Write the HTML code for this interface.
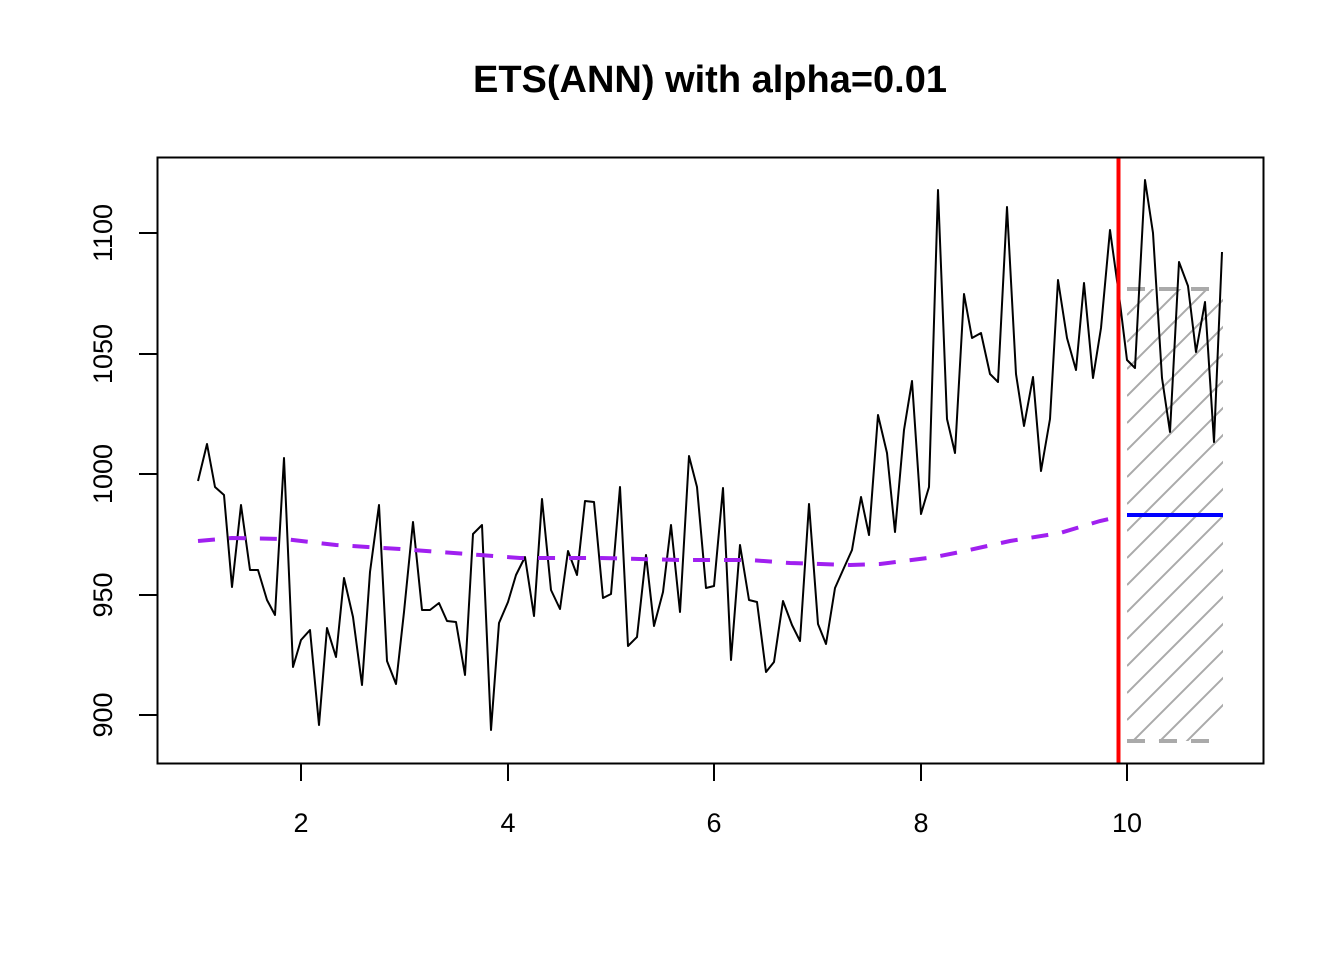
<!DOCTYPE html>
<html><head><meta charset="utf-8"><style>body{margin:0;background:#fff}svg{display:block}</style></head>
<body>
<svg width="1344" height="960" viewBox="0 0 1344 960" xmlns="http://www.w3.org/2000/svg" font-family="Liberation Sans, sans-serif">
<rect width="1344" height="960" fill="#fff"/>
<text x="710" y="92" text-anchor="middle" font-size="38" font-weight="bold">ETS(ANN) with alpha=0.01</text>
<defs><clipPath id="hc"><rect x="1127" y="289" width="96" height="452"/></clipPath></defs>
<g clip-path="url(#hc)" stroke="#aaa" stroke-width="2">
<g id="h">
<line x1="1127" y1="801" x2="1627" y2="301"/><line x1="1127" y1="774" x2="1627" y2="274"/><line x1="1127" y1="747" x2="1627" y2="247"/><line x1="1127" y1="720" x2="1627" y2="220"/><line x1="1127" y1="693" x2="1627" y2="193"/><line x1="1127" y1="666" x2="1627" y2="166"/><line x1="1127" y1="639" x2="1627" y2="139"/><line x1="1127" y1="612" x2="1627" y2="112"/><line x1="1127" y1="585" x2="1627" y2="85"/><line x1="1127" y1="558" x2="1627" y2="58"/><line x1="1127" y1="531" x2="1627" y2="31"/><line x1="1127" y1="504" x2="1627" y2="4"/><line x1="1127" y1="477" x2="1627" y2="-23"/><line x1="1127" y1="450" x2="1627" y2="-50"/><line x1="1127" y1="423" x2="1627" y2="-77"/><line x1="1127" y1="396" x2="1627" y2="-104"/><line x1="1127" y1="369" x2="1627" y2="-131"/><line x1="1127" y1="342" x2="1627" y2="-158"/><line x1="1127" y1="315" x2="1627" y2="-185"/><line x1="1127" y1="288" x2="1627" y2="-212"/>
</g></g>
<line x1="1127" y1="289" x2="1210" y2="289" stroke="#aaa" stroke-width="4" stroke-dasharray="18,14"/>
<line x1="1127" y1="741" x2="1210" y2="741" stroke="#aaa" stroke-width="4" stroke-dasharray="18,14"/>
<polyline fill="none" stroke="#000" stroke-width="2" stroke-linejoin="round" points="198,481 207,444 215,487 224,495 232,587 241,505 250,570 258,570 267,600 275,615 284,458 293,667 301,640 310,630 319,725 327,628 336,657 344,578 353,617 362,685 370,572 379,505 387,661 396,684 404,612 413,522 422,610 430,610 439,603 447,621 456,622 465,675 473,534 482,525 491,730 499,623 508,602 516,575 525,557 534,616 542,499 551,590 560,609 568,551 577,575 585,501 594,502 603,598 611,594 620,487 628,646 637,637 646,555 654,626 663,592 671,525 680,612 689,456 697,487 706,588 714,586 723,488 731,660 740,545 749,600 757,602 766,672 774,662 783,601 792,625 800,641 809,504 818,624 826,644 835,588 843,570 852,550 861,497 869,535 878,415 887,453 895,532 904,430 912,381 921,514 929,487 938,190 947,419 955,453 964,294 972,338 981,333 990,374 998,382 1007,207 1016,374 1024,426 1033,377 1041,471 1050,419 1058,280 1067,338 1076,370 1084,283 1093,378 1101,328 1110,230 1119,295 1127,360 1135,368 1145,180 1153,233 1162,378 1170,432 1179,262 1188,286 1196,352 1205,302 1214,442 1222,252"/>
<polyline fill="none" stroke="#a020f0" stroke-width="4" stroke-dasharray="17,14" points="198,541 232,538 284,539 336,545 400,549 480,555 520,558 600,558 680,560 750,560 790,563 850,565 880,564 935,557 960,552 1010,541 1060,533 1100,521 1118,517"/>
<line x1="1127" y1="515" x2="1223" y2="515" stroke="#0000ff" stroke-width="4"/>
<line x1="1118.5" y1="157" x2="1118.5" y2="763" stroke="#ff0000" stroke-width="4"/>
<rect x="157.5" y="157.5" width="1106" height="606" fill="none" stroke="#000" stroke-width="2"/>
<g stroke="#000" stroke-width="2">
<line x1="301" y1="763" x2="301" y2="781"/><line x1="508" y1="763" x2="508" y2="781"/><line x1="714" y1="763" x2="714" y2="781"/><line x1="921" y1="763" x2="921" y2="781"/><line x1="1127" y1="763" x2="1127" y2="781"/>
<line x1="139" y1="233" x2="157" y2="233"/><line x1="139" y1="354" x2="157" y2="354"/><line x1="139" y1="474" x2="157" y2="474"/><line x1="139" y1="595" x2="157" y2="595"/><line x1="139" y1="715" x2="157" y2="715"/>
</g>
<g font-size="27" text-anchor="middle">
<text x="301" y="832">2</text><text x="508" y="832">4</text><text x="714" y="832">6</text><text x="921" y="832">8</text><text x="1127" y="832">10</text>
<text transform="translate(112,233) rotate(-90)">1100</text>
<text transform="translate(112,354) rotate(-90)">1050</text>
<text transform="translate(112,474) rotate(-90)">1000</text>
<text transform="translate(112,595) rotate(-90)">950</text>
<text transform="translate(112,715) rotate(-90)">900</text>
</g>
</svg>
</body></html>
